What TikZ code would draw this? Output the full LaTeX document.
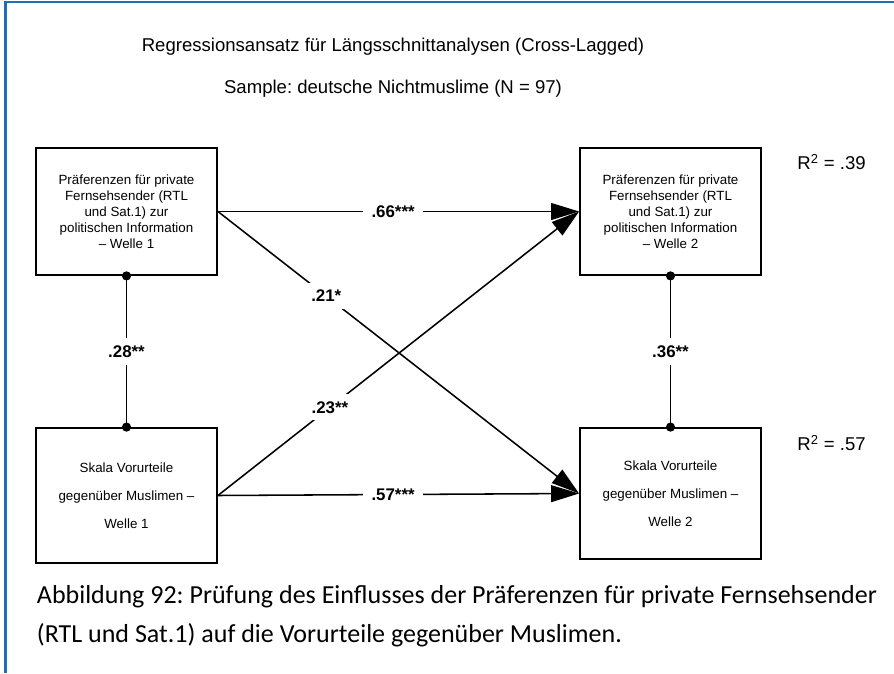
\documentclass[tikz,border=0pt]{standalone}
\usepackage{fontspec}
\setmainfont{Liberation Sans}
\newfontfamily\capfont{Carlito}
\usetikzlibrary{arrows.meta}
\definecolor{rahmenblau}{RGB}{31,111,181}
\tikzset{
  kasten/.style={rectangle,draw,line width=1.3pt,minimum width=4.525cm,align=center},
  pfeil/.style={line width=1.1pt,-{Triangle[length=0.7cm,width=0.42cm]}},
  verb/.style={line width=1.1pt},
  koeff/.style={fill=white,inner xsep=6pt,inner ysep=5pt,font=\fontsize{12}{14}\selectfont\bfseries},
  gross/.style={font=\fontsize{13.2}{16}\selectfont},
}
\frenchspacing
\begin{document}
\begin{tikzpicture}
    \useasboundingbox (0,0) rectangle (22.35,16.825);
    \draw[rahmenblau,line width=1.8pt] (0.14,0) -- (0.14,16.78) -- (22.35,16.78);
    % Ueberschrift
    \node[gross] at (9.825,15.65) (titel) {Regressionsansatz für Längsschnittanalysen (Cross-Lagged)};
    \node[gross] at (9.825,14.6) (sample) {Sample: deutsche Nichtmuslime (N = 97)};
    % Variablen
    \node[kasten,minimum height=3.175cm,font=\fontsize{9.5}{11.4}\selectfont] at (3.1625,11.5375) (praef1) {Präferenzen für private\\Fernsehsender (RTL\\und Sat.1) zur\\politischen Information\\– Welle 1};
    \node[kasten,minimum height=3.175cm,font=\fontsize{9.5}{11.4}\selectfont] at (16.7625,11.5375) (praef2) {Präferenzen für private\\Fernsehsender (RTL\\und Sat.1) zur\\politischen Information\\– Welle 2};
    \node[kasten,minimum height=3.375cm,font=\fontsize{9.5}{19.9}\selectfont] at (3.1625,4.4375) (vorurt1) {Skala Vorurteile\\gegenüber Muslimen –\\Welle 1};
    \node[kasten,minimum height=3.275cm,font=\fontsize{9.5}{19.9}\selectfont] at (16.7625,4.4875) (vorurt2) {Skala Vorurteile\\gegenüber Muslimen –\\Welle 2};
    \node[gross] at (20.79,12.775) (rq1) {R\textsuperscript{2} = .39};
    \node[gross] at (20.79,5.75) (rq2) {R\textsuperscript{2} = .57};
    % Pfade
    \draw[pfeil] (praef1.east) -- node[koeff,pos=0.485] {.66***} (praef2.west);
    \draw[pfeil] (vorurt1.east) -- node[koeff,pos=0.485] {.57***} (vorurt2.west);
    \draw[pfeil] (praef1.east) -- node[koeff,pos=0.3] {.21*} (vorurt2.west);
    \draw[pfeil] (vorurt1.east) -- node[koeff,pos=0.31] {.23**} (praef2.west);
    \draw[verb] (praef1.south) -- node[koeff] {.28**} (vorurt1.north);
    \draw[verb] (praef2.south) -- node[koeff] {.36**} (vorurt2.north);
    \foreach \p in {praef1.south,vorurt1.north,praef2.south,vorurt2.north}
        \fill (\p) circle (0.115);
    % Bildunterschrift
    \node[anchor=west,align=left,font=\capfont\fontsize{18.5}{27.7}\selectfont] at (0.8,1.41) (caption) {Abbildung 92: Prüfung des Einflusses der Präferenzen für private Fernsehsender\\(RTL und Sat.1) auf die Vorurteile gegenüber Muslimen.};
\end{tikzpicture}
\end{document}
